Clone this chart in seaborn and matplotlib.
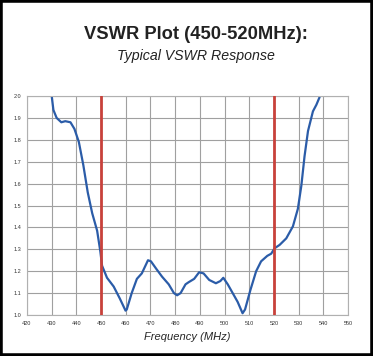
import numpy as np
import pandas as pd
import seaborn as sns
import matplotlib.pyplot as plt
from matplotlib.patches import Rectangle

# VSWR curve
freq = [430.0, 430.7, 432.0, 433.9, 435.5, 437.6, 439.2, 441.0, 442.8, 444.6,
        446.4, 448.4, 449.7, 450.4, 452.4, 455.1, 457.6, 459.9, 460.4, 462.4,
        464.5, 466.5, 469.0, 470.2, 472.4, 474.7, 477.4, 479.5, 480.8, 482.2,
        484.2, 485.5, 487.7, 489.7, 491.5, 493.8, 496.5, 498.3, 499.5, 501.3,
        503.3, 505.3, 507.3, 508.3, 510.5, 512.8, 514.8, 517.3, 518.9, 520.3,
        522.3, 525.0, 527.7, 529.7, 531.1, 532.4, 533.8, 535.8, 537.2, 538.5]
vswr = [2.00, 1.936, 1.90, 1.88, 1.885, 1.88, 1.85, 1.79, 1.685, 1.56,
        1.465, 1.385, 1.29, 1.225, 1.17, 1.13, 1.075, 1.02, 1.025, 1.10,
        1.165, 1.19, 1.25, 1.245, 1.21, 1.175, 1.14, 1.10, 1.09, 1.10,
        1.14, 1.15, 1.165, 1.195, 1.19, 1.16, 1.145, 1.155, 1.17, 1.14,
        1.10, 1.06, 1.008, 1.025, 1.115, 1.20, 1.245, 1.27, 1.28, 1.305,
        1.32, 1.35, 1.405, 1.485, 1.59, 1.725, 1.84, 1.93, 1.96, 1.995]
band_edges = [450, 520]
x_ticks = list(range(420, 551, 10))
y_ticks = [1.0, 1.1, 1.2, 1.3, 1.4, 1.5, 1.6, 1.7, 1.8, 1.9, 2.0]

df = pd.DataFrame({'freq': freq, 'vswr': vswr})

sns.set_style('whitegrid', {'grid.color': '#a0a0a0', 'axes.edgecolor': '#b0b0b0'})
plt.rcParams['font.family'] = ['Liberation Sans', 'DejaVu Sans']

fig = plt.figure(figsize=(3.73, 3.56), dpi=100)
ax = fig.add_axes([27/373, 41/356, 321/373, 219/356])

sns.lineplot(data=df, x='freq', y='vswr', ax=ax, color='#2b5ca8', linewidth=1.6)
for edge in band_edges:
    ax.axvline(edge, color='#c8413b', linewidth=2.0, zorder=3)

ax.set_xlim(420, 550)
ax.set_ylim(1.0, 2.0)
ax.set_xticks(x_ticks)
ax.set_yticks(y_ticks)
ax.set_yticklabels([f'{t:.1f}' for t in y_ticks])
ax.tick_params(labelsize=4, colors='#333333', length=0, pad=4)
ax.grid(True, linewidth=0.8)
ax.set_ylabel('')
ax.set_xlabel('Frequency (MHz)', fontsize=8, style='italic', labelpad=5)

fig.text(0.526, 0.903, 'VSWR Plot (450-520MHz):', ha='center', va='center',
         fontsize=13.2, fontweight='bold', color='#222222')
fig.text(0.526, 0.842, 'Typical VSWR Response', ha='center', va='center',
         fontsize=10.2, style='italic', color='#222222')

# black frame around the whole picture
fig.patches.append(Rectangle((0, 0), 1, 1, transform=fig.transFigure,
                             fill=False, edgecolor='black', linewidth=4))

fig.savefig('out.png', dpi=100)
